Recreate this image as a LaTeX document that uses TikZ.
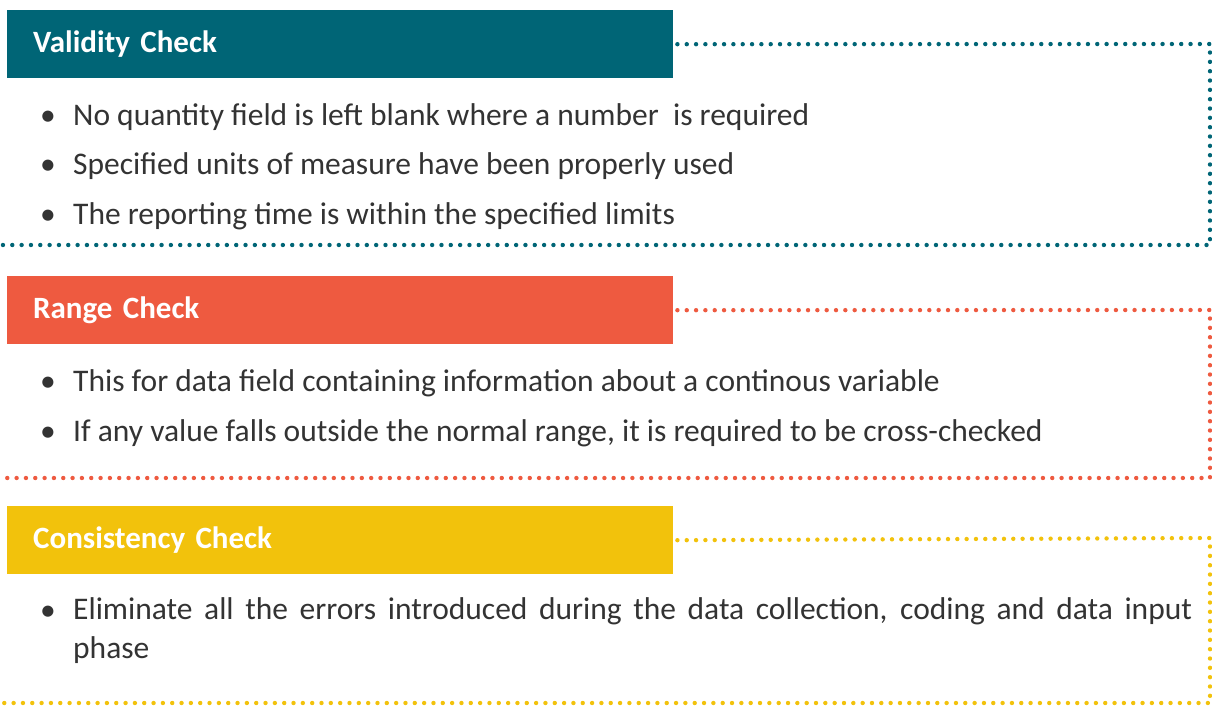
\documentclass[tikz,border=0pt]{standalone}
\usepackage{fontspec}
\setmainfont{Carlito}
\definecolor{checkteal}{HTML}{006576}
\definecolor{checkred}{HTML}{EE5A40}
\definecolor{checkyellow}{HTML}{F2C20C}
\definecolor{checktext}{HTML}{333333}

\begin{document}
\begin{tikzpicture}[x=1pt,y=-1pt,
  head/.style={fill=#1, text=white, anchor=north west, inner sep=0pt, inner xsep=26pt,
    minimum width=666pt, minimum height=68pt, text width=614pt, align=left,
    font=\bfseries\fontsize{31}{34}\selectfont},
  item/.style={anchor=base west, inner sep=0pt, text=checktext,
    font=\fontsize{31.5}{39}\selectfont},
  dots/.style={draw=#1, line width=4.4pt, line cap=round, dash pattern=on 0pt off 9.33pt}]
  \useasboundingbox (0,0) rectangle (1212,706);

  \node[head=checkteal] (ValidityHead) at (7,10) {Validity Check};
  \node[item] (ValidityA) at (40,126) {\makebox[33pt][l]{•}No quantity field is left blank where a number \ is required};
  \node[item] (ValidityB) at (40,174) {\makebox[33pt][l]{•}Specified units of measure have been properly used};
  \node[item] (ValidityC) at (40,224) {\makebox[33pt][l]{•}The reporting time is within the specified limits};

  \node[head=checkred] (RangeHead) at (7,276) {Range Check};
  \node[item] (RangeA) at (40,391) {\makebox[33pt][l]{•}This for data field containing information about a continous variable};
  \node[item] (RangeB) at (40,441) {\makebox[33pt][l]{•}If any value falls outside the normal range, it is required to be cross-checked};

  \node[head=checkyellow] (ConsistencyHead) at (7,506) {Consistency Check};
  \node[item] (ConsistencyBullet) at (40,620) {•};
  \node[item, anchor=north west, text width=1119pt, align=justify] (ConsistencyA) at (73,597)
    {Eliminate all the errors introduced during the data collection, coding and data input\linebreak phase};

  \coordinate (ValidityTurn) at (1210,44);
  \coordinate (ValidityDown) at (1210,245);
  \coordinate (ValidityEnd) at (2,245);
  \coordinate (RangeTurn) at (1210,310);
  \coordinate (RangeDown) at (1210,478);
  \coordinate (RangeEnd) at (2,478);
  \coordinate (ConsistencyTurn) at (1210,538);
  \coordinate (ConsistencyDown) at (1210,703);
  \coordinate (ConsistencyEnd) at (2,703);

  \draw[dots=checkteal] (ValidityHead.east) ++(4,0) -- (ValidityTurn) -- (ValidityDown) -- (ValidityEnd);
  \draw[dots=checkred] (RangeHead.east) ++(4,0) -- (RangeTurn) -- (RangeDown) -- (RangeEnd);
  \draw[dots=checkyellow] (ConsistencyHead.east) ++(4,0) -- (ConsistencyTurn) -- (ConsistencyDown) -- (ConsistencyEnd);
\end{tikzpicture}
\end{document}
